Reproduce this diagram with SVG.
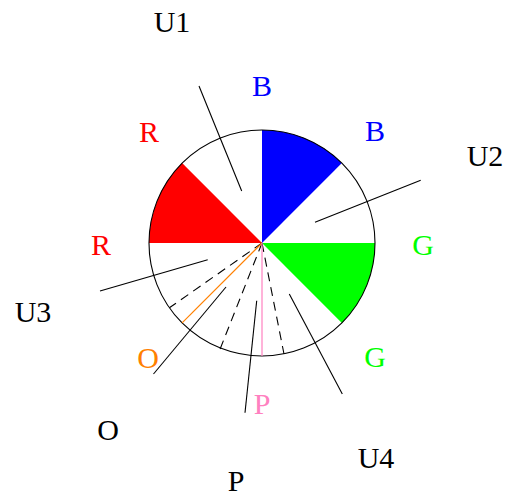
<svg xmlns="http://www.w3.org/2000/svg" width="505" height="498" viewBox="0 0 505 498">
<style>
.t{font-family:"Liberation Serif","DejaVu Serif",serif;font-size:30px;text-anchor:middle}
.ln{stroke:#000;stroke-width:1.1;fill:none}
.ds{stroke:#000;stroke-width:1.1;stroke-dasharray:9 6;fill:none}
</style>
<rect width="505" height="498" fill="#fff"/>
<g id="sectors">
<path d="M262,243 L262,130 A113,113 0 0 1 341.9,163.1 Z" fill="#0000ff"/>
<path d="M262,243 L375,243 A113,113 0 0 1 341.9,322.9 Z" fill="#00ff00"/>
<path d="M262,243 L149,243 A113,113 0 0 1 182.1,163.1 Z" fill="#ff0000"/>
</g>
<g id="circle"><circle cx="262" cy="243" r="113" class="ln"/></g>
<g id="connectors">
<line x1="262" y1="243" x2="169.4" y2="307.8" class="ds"/>
<line x1="262" y1="243" x2="220" y2="349.3" class="ds"/>
<line x1="262" y1="243" x2="284" y2="354" class="ds"/>
<line x1="262" y1="243" x2="182.1" y2="322.9" stroke="#ff8000" stroke-width="1.2"/>
<line x1="262" y1="243" x2="262" y2="356" stroke="#ff80c0" stroke-width="1.2"/>
<line x1="199" y1="86" x2="241.7" y2="191" class="ln"/>
<line x1="420.7" y1="180.3" x2="315" y2="222.3" class="ln"/>
<line x1="100" y1="291" x2="207.7" y2="259.7" class="ln"/>
<line x1="289.3" y1="294" x2="342.3" y2="394" class="ln"/>
<line x1="226" y1="287" x2="153.5" y2="374" class="ln"/>
<line x1="256.7" y1="300.7" x2="245" y2="412.7" class="ln"/>
</g>
<g id="labels">
<text class="t" x="172" y="32">U1</text>
<text class="t" x="262" y="96" fill="#0000ff">B</text>
<text class="t" x="375" y="141" fill="#0000ff">B</text>
<text class="t" x="485" y="166">U2</text>
<text class="t" x="423" y="255" fill="#00ff00">G</text>
<text class="t" x="375" y="367" fill="#00ff00">G</text>
<text class="t" x="376" y="468">U4</text>
<text class="t" x="262" y="414" fill="#ff80c0">P</text>
<text class="t" x="236" y="491">P</text>
<text class="t" x="108" y="440">O</text>
<text class="t" x="148" y="368" fill="#ff8000">O</text>
<text class="t" x="33" y="322">U3</text>
<text class="t" x="101" y="255" fill="#ff0000">R</text>
<text class="t" x="149" y="142" fill="#ff0000">R</text>
</g>
</svg>
